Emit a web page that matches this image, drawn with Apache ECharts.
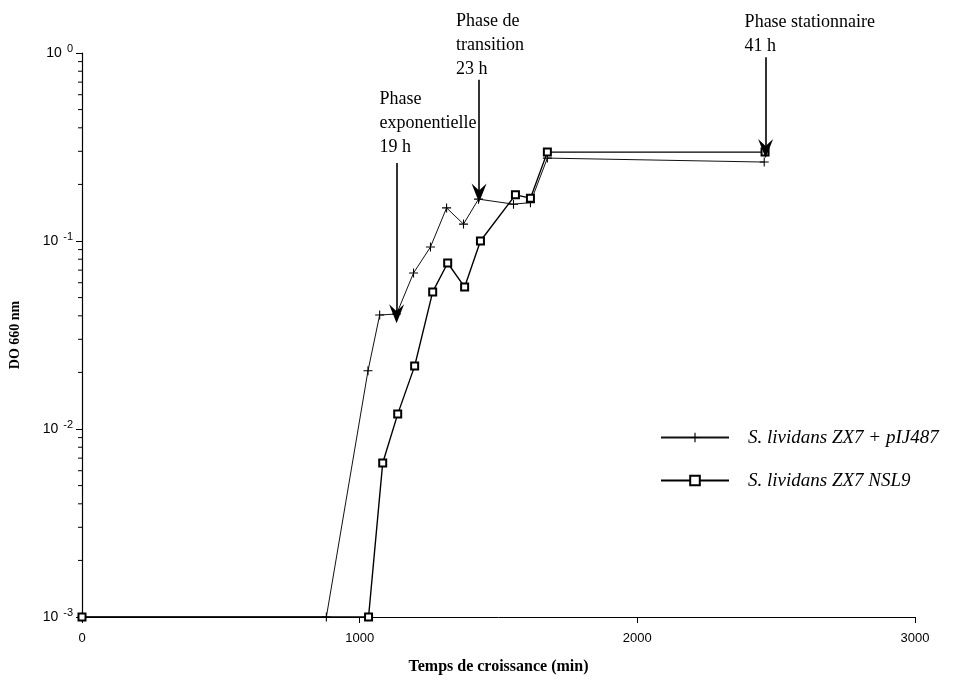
<!DOCTYPE html>
<html>
<head>
<meta charset="utf-8">
<script src="https://cdn.jsdelivr.net/npm/echarts@6/dist/echarts.min.js"></script>
<style>
  html, body { margin: 0; padding: 0; background: #fff; }
  #chart { width: 971px; height: 683px; }
</style>
</head>
<body>
<div id="chart"></div>
<script>
// Growth curves: optical density (660 nm) vs. growth time (min)
const timeA = [0, 880, 1030, 1072, 1133, 1194, 1255, 1313, 1374, 1428, 1554, 1615, 1676, 2457];
const odA   = [0.001, 0.001, 0.0204, 0.0404, 0.0409, 0.0676, 0.0929, 0.150, 0.123, 0.167, 0.157, 0.160, 0.276, 0.263];
const timeB = [0, 1032, 1083, 1137, 1198, 1263, 1317, 1378, 1435, 1561, 1615, 1676, 2460];
const odB   = [0.001, 0.001, 0.0066, 0.0120, 0.0216, 0.0536, 0.0764, 0.0569, 0.100, 0.176, 0.169, 0.297, 0.297];

const nameA = 'S. lividans ZX7 + pIJ487';
const nameB = 'S. lividans ZX7 NSL9';

// Phase markers: label, time of the arrow, arrow start / end values
const phaseLabels = ['Phase\nexponentielle\n19 h', 'Phase de\ntransition\n23 h', 'Phase stationnaire\n41 h'];
const phaseTimes  = [1133, 1430, 2462];
const arrowFrom   = [0.26, 0.72, 0.95];
const arrowTo     = [0.041, 0.18, 0.31];
const labelShift  = [[-17, 0], [-23, 5], [-21, 5]];

// Log minor tick values (2..9 within each decade)
const minorTicks = [];
[0.001, 0.01, 0.1].forEach(d => { for (let k = 2; k <= 9; k++) minorTicks.push(+(d * k).toPrecision(3)); });

const xTicks = [0, 1000, 2000, 3000];

const plusPath = 'path://M0,4.4H10V5.6H0Z M4.4,0H5.6V10H4.4Z';
const dartPath = 'path://M5,0L10,11L5,7L0,11Z';

const serif = '"Liberation Serif", "Times New Roman", serif';
const sans = '"Liberation Sans", Arial, sans-serif';

const chart = echarts.init(document.getElementById('chart'));

chart.setOption({
  backgroundColor: '#fff',
  animation: false,
  grid: { left: 81, right: 56, top: 53, bottom: 66 },
  xAxis: {
    type: 'value',
    min: xTicks[0], max: xTicks[xTicks.length - 1], interval: 1000,
    name: 'Temps de croissance (min)',
    nameLocation: 'middle', nameGap: 42,
    nameTextStyle: { fontFamily: serif, fontWeight: 'bold', fontSize: 16, color: '#000' },
    axisLine: { show: true, lineStyle: { color: '#000', width: 1 } },
    axisTick: { show: true, length: 6, inside: false, lineStyle: { color: '#000' } },
    axisLabel: { fontFamily: sans, fontSize: 13, color: '#000', margin: 15, formatter: v => String(v) },
    splitLine: { show: false }
  },
  yAxis: {
    type: 'log', logBase: 10, min: 0.001, max: 1,
    name: 'DO 660 nm',
    nameLocation: 'middle', nameGap: 60, nameRotate: 90,
    nameTextStyle: { fontFamily: serif, fontWeight: 'bold', fontSize: 14, color: '#000' },
    axisLine: { show: true, lineStyle: { color: '#000', width: 1.2 } },
    axisTick: { show: true, length: 6, inside: false, lineStyle: { color: '#000' } },
    axisLabel: {
      margin: 9,
      formatter: v => '{b|10}{s|' + Math.round(Math.log10(v)) + '}',
      rich: {
        b: { fontFamily: sans, fontSize: 14, color: '#000' },
        s: { fontFamily: sans, fontSize: 11, color: '#000', padding: [0, 0, 9, 5] }
      }
    },
    splitLine: { show: false }
  },
  legend: {
    data: [nameA, nameB],
    orient: 'vertical',
    left: 655, top: 423,
    itemWidth: 68, itemHeight: 12, itemGap: 24,
    textStyle: { fontFamily: serif, fontStyle: 'italic', fontSize: 19, color: '#000', padding: [0, 0, 0, 14] }
  },
  series: [
    {
      name: nameA,
      type: 'line',
      data: timeA.map((t, i) => [t, odA[i]]),
      symbol: plusPath, symbolSize: 9,
      showAllSymbol: true,
      lineStyle: { color: '#111', width: 1 },
      itemStyle: { color: '#000' },
      z: 3
    },
    {
      name: nameB,
      type: 'line',
      data: timeB.map((t, i) => [t, odB[i]]),
      symbol: 'emptyRect', symbolSize: 7,
      showAllSymbol: true,
      lineStyle: { color: '#000', width: 1.4 },
      itemStyle: { color: '#000', borderColor: '#000', borderWidth: 1.5 },
      z: 4
    },
    {
      // phase arrows and their captions
      name: 'phases',
      type: 'line',
      data: [],
      silent: true,
      markLine: {
        silent: true,
        symbol: ['none', dartPath],
        symbolSize: [15, 19],
        label: { show: false },
        lineStyle: { color: '#000', width: 1.6, type: 'solid' },
        data: phaseTimes.map((t, i) => [{ coord: [t, arrowFrom[i]] }, { coord: [t, arrowTo[i]] }])
      },
      markPoint: {
        silent: true,
        symbol: 'circle', symbolSize: 0,
        label: {
          show: true,
          position: 'top',
          align: 'left',
          distance: 4,
          fontFamily: serif, fontSize: 18, lineHeight: 24, color: '#000'
        },
        data: phaseTimes.map((t, i) => ({
          coord: [t, arrowFrom[i]],
          label: { formatter: phaseLabels[i], offset: labelShift[i] }
        }))
      }
    },
    {
      // minor log ticks on the y axis
      name: 'minor',
      type: 'custom',
      clip: false,
      silent: true,
      data: minorTicks.map(v => [xTicks[0], v]),
      renderItem: (params, api) => {
        const p = api.coord([api.value(0), api.value(1)]);
        return {
          type: 'line',
          shape: { x1: p[0] - 4, y1: p[1], x2: p[0], y2: p[1] },
          style: { stroke: '#000', lineWidth: 1 }
        };
      }
    }
  ]
});
</script>
</body>
</html>
